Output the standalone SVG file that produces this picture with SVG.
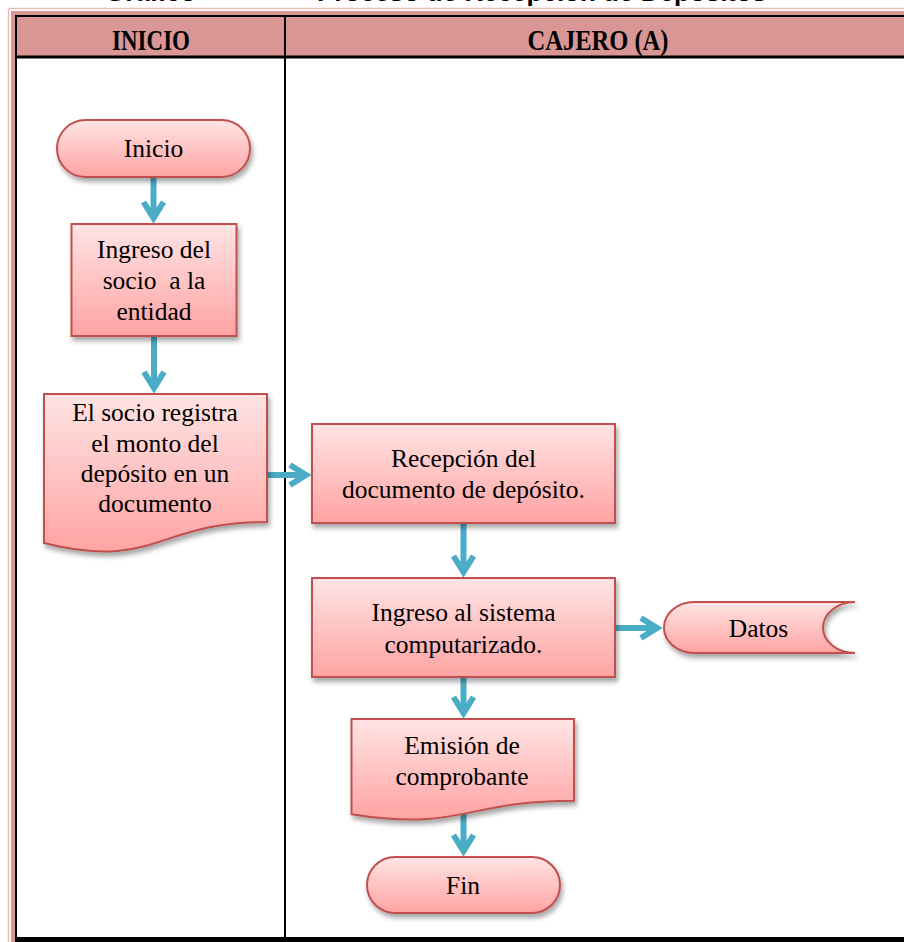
<svg xmlns="http://www.w3.org/2000/svg" width="904" height="942" viewBox="0 0 904 942">
  <defs>
    <linearGradient id="fillRed" x1="0" y1="0" x2="0" y2="1">
      <stop offset="0" stop-color="#FFE4E4"/>
      <stop offset="0.4" stop-color="#FFCACA"/>
      <stop offset="1" stop-color="#FFA3A3"/>
    </linearGradient>
    <filter id="shadow" x="-10%" y="-10%" width="130%" height="140%">
      <feDropShadow dx="2" dy="4" stdDeviation="2.5" flood-color="#000000" flood-opacity="0.35"/>
    </filter>
    <marker id="arrowHead" markerUnits="userSpaceOnUse" orient="auto" overflow="visible" refX="0" refY="0" markerWidth="1" markerHeight="1">
      <path d="M-16,-10 L0,0 L-16,10" fill="none" stroke="#4BACC6" stroke-width="6" stroke-linejoin="miter"/>
    </marker>
    <style>
      .shape { fill: url(#fillRed); stroke: #C0504D; stroke-width: 2; filter: url(#shadow); }
      .label { font-family: "Liberation Serif", "Times New Roman", serif; font-size: 25.5px; fill: #000; text-anchor: middle; white-space: pre; }
      .head { font-family: "Liberation Serif", "Times New Roman", serif; font-size: 29px; font-weight: bold; fill: #000; text-anchor: middle; }
      .title { font-family: "Liberation Sans", Arial, sans-serif; font-size: 26px; font-weight: bold; fill: #000; }
      .conn { fill: none; stroke: #4BACC6; stroke-width: 6; marker-end: url(#arrowHead); }
    </style>
  </defs>

  <rect x="0" y="0" width="904" height="942" fill="#FFFFFF"/>

  <!-- title line, mostly above the page edge -->
  <text class="title" x="105" y="0.5">Gráfico</text>
  <text class="title" x="317" y="0.5">Proceso de Recepción de Depósitos</text>

  <!-- table frame -->
  <g id="frame">
    <rect x="8.5" y="8.5" width="940" height="980" rx="2" fill="none" stroke="#EDB9B8" stroke-width="1.5"/>
    <rect x="13" y="13" width="940" height="980" fill="none" stroke="#D99694" stroke-width="4"/>
    <rect x="16" y="16" width="900" height="40" fill="#D99694"/>
    <line x1="15" y1="16" x2="904" y2="16" stroke="#000" stroke-width="2"/>
    <line x1="16" y1="15" x2="16" y2="942" stroke="#000" stroke-width="2"/>
    <line x1="16" y1="57" x2="904" y2="57" stroke="#000" stroke-width="3"/>
    <line x1="285" y1="15" x2="285" y2="942" stroke="#000" stroke-width="2"/>
    <line x1="15" y1="939.5" x2="904" y2="939.5" stroke="#000" stroke-width="5"/>
    <text class="head" x="151" y="50" textLength="78" lengthAdjust="spacingAndGlyphs">INICIO</text>
    <text class="head" x="598" y="50" textLength="141" lengthAdjust="spacingAndGlyphs">CAJERO (A)</text>
  </g>

  <!-- connectors -->
  <g id="connectors">
    <path class="conn" d="M153.5,176 V218"/>
    <path class="conn" d="M154,335 V388"/>
    <path class="conn" d="M266,475 H306"/>
    <path class="conn" d="M463.5,522 V572"/>
    <path class="conn" d="M614,628 H657"/>
    <path class="conn" d="M463.5,676 V713"/>
    <path class="conn" d="M463.5,806 V851"/>
  </g>

  <g id="inicio">
    <rect class="shape" x="57" y="120" width="193" height="57" rx="28.5"/>
    <text class="label" x="153.5" y="157">Inicio</text>
  </g>

  <g id="ingreso-socio">
    <rect class="shape" x="71.5" y="224" width="165" height="112"/>
    <text class="label" x="154" y="258">Ingreso del</text>
    <text class="label" x="154" y="289">socio  a la</text>
    <text class="label" x="154" y="320">entidad</text>
  </g>

  <g id="registro-monto">
    <path class="shape" d="M44,394 H267 V522 C155.5,522 155.5,571 44,543 Z"/>
    <text class="label" x="155" y="421">El socio registra</text>
    <text class="label" x="155" y="452">el monto del</text>
    <text class="label" x="155" y="482">depósito en un</text>
    <text class="label" x="155" y="512">documento</text>
  </g>

  <g id="recepcion">
    <rect class="shape" x="312" y="424" width="303" height="99"/>
    <text class="label" x="463.5" y="467">Recepción del</text>
    <text class="label" x="463.5" y="498">documento de depósito.</text>
  </g>

  <g id="ingreso-sistema">
    <rect class="shape" x="312" y="578" width="303" height="99"/>
    <text class="label" x="463.5" y="621">Ingreso al sistema</text>
    <text class="label" x="463.5" y="653">computarizado.</text>
  </g>

  <g id="datos">
    <path class="shape" d="M694,602 H855 A32,25.5 0 0 0 855,653 H694 A30,25.5 0 0 1 694,602 Z"/>
    <text class="label" x="758.5" y="637">Datos</text>
  </g>

  <g id="emision">
    <path class="shape" d="M351.5,719 H574 V800.7 C462.7,800.7 462.7,831.8 351.5,814.2 Z"/>
    <text class="label" x="462" y="754">Emisión de</text>
    <text class="label" x="462" y="785">comprobante</text>
  </g>

  <g id="fin">
    <rect class="shape" x="367" y="857" width="193" height="56" rx="28"/>
    <text class="label" x="463" y="894">Fin</text>
  </g>
</svg>
